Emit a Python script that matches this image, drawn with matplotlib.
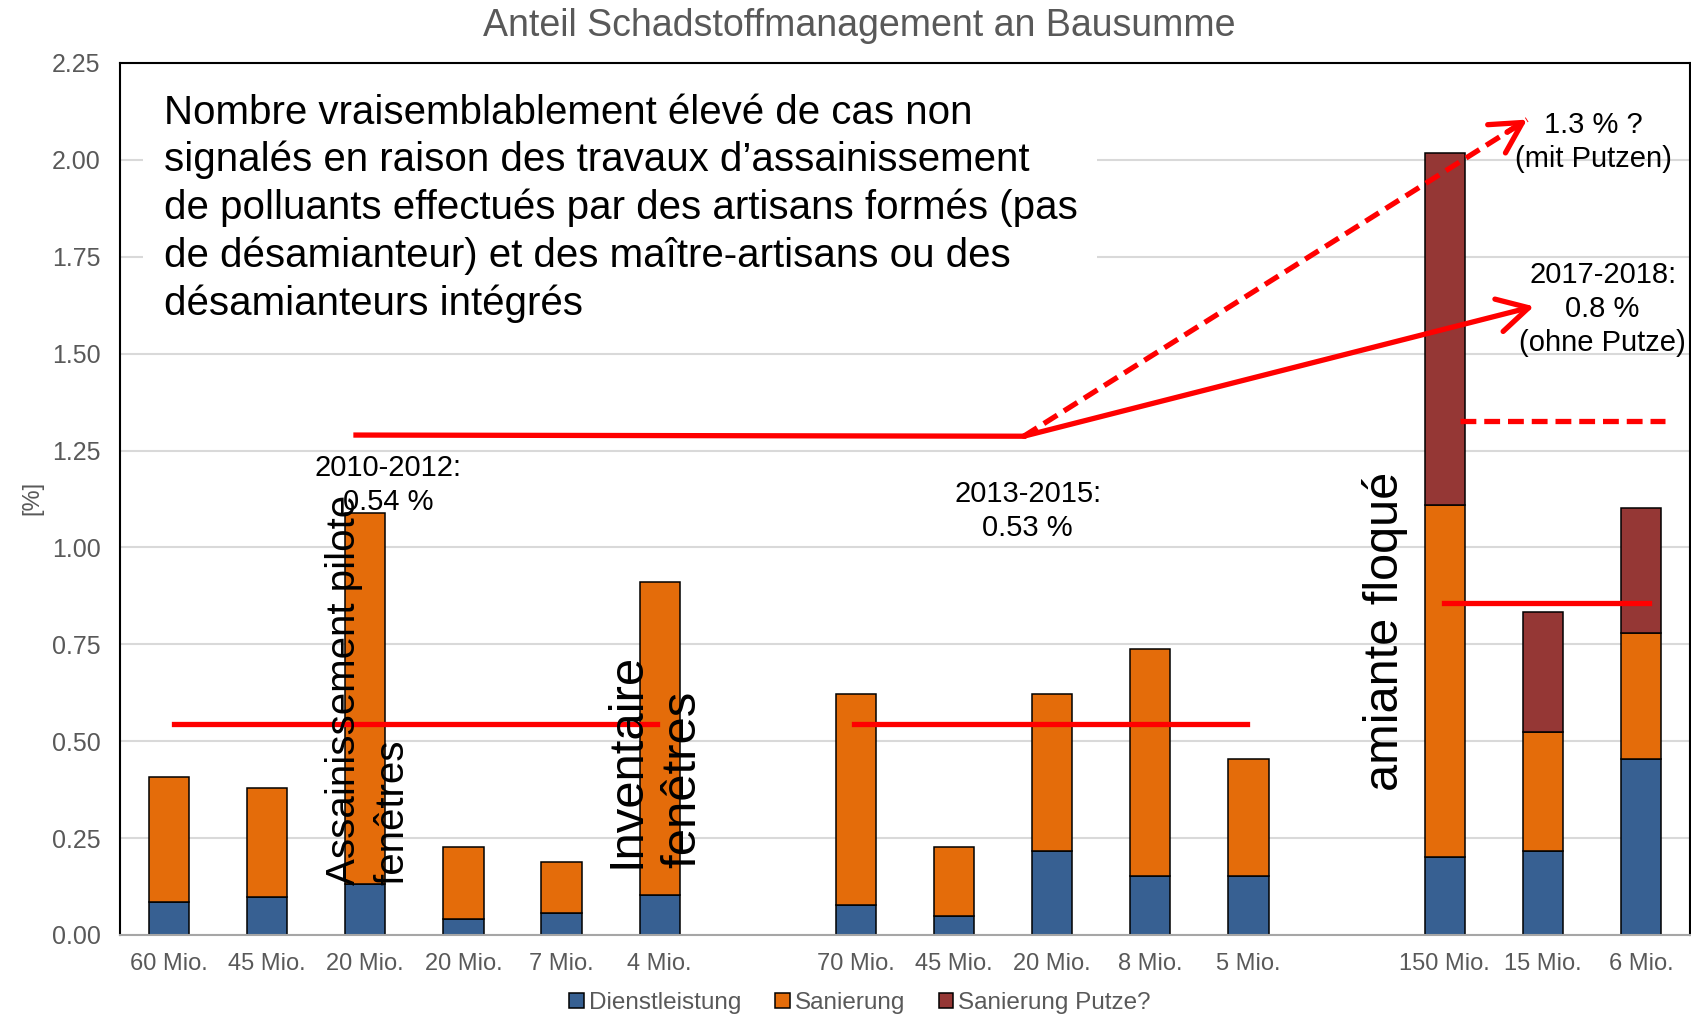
import numpy as np
import matplotlib
matplotlib.use('Agg')
import matplotlib.pyplot as plt
from matplotlib.patches import Rectangle, Patch

plt.rcParams['font.family'] = ['Liberation Sans', 'DejaVu Sans']

# categories ('' = empty slot between the groups)
labels = ['60 Mio.', '45 Mio.', '20 Mio.', '20 Mio.', '7 Mio.', '4 Mio.', '',
          '70 Mio.', '45 Mio.', '20 Mio.', '8 Mio.', '5 Mio.', '',
          '150 Mio.', '15 Mio.', '6 Mio.']
dienst = [0.084, 0.098, 0.132, 0.042, 0.056, 0.104, np.nan,
          0.078, 0.049, 0.216, 0.152, 0.152, np.nan,
          0.201, 0.216, 0.455]
sanierung = [0.323, 0.282, 0.957, 0.186, 0.132, 0.807, np.nan,
             0.543, 0.179, 0.405, 0.587, 0.303, np.nan,
             0.908, 0.308, 0.324]
putze = [0, 0, 0, 0, 0, 0, np.nan,
         0, 0, 0, 0, 0, np.nan,
         0.908, 0.310, 0.324]

# averages per period
avg_1012 = 0.545
avg_1315 = 0.545
avg_1718 = 0.857
avg_1718_putz = 1.327
trend_y = [1.290, 1.287]
trend_end_ohne = 1.622
trend_end_mit = 2.104

C_BLUE = '#376092'
C_ORANGE = '#E46C0A'
C_RED = '#953735'
GRAY = '#595959'
RED = '#FF0000'
LW = 3.8

fig = plt.figure(figsize=(16.91, 10.15), dpi=100)
ax = fig.add_axes([120/1691, 80/1015, 1570/1691, 872/1015])

x = np.arange(len(labels))
d = np.array(dienst)
s = np.array(sanierung)
p = np.array(putze)
w = 0.41
ax.bar(x, d, w, color=C_BLUE, edgecolor='black', lw=1.1, zorder=2)
ax.bar(x, s, w, bottom=d, color=C_ORANGE, edgecolor='black', lw=1.1, zorder=2)
hasp = p > 0
ax.bar(x[hasp], p[hasp], w, bottom=(d + s)[hasp], color=C_RED,
       edgecolor='black', lw=1.1, zorder=2)

ax.set_xlim(-0.5, len(labels) - 0.5)
ax.set_ylim(0, 2.25)
ax.set_yticks(np.arange(0, 2.26, 0.25))
ax.set_yticklabels(['%.2f' % v for v in np.arange(0, 2.26, 0.25)])
ax.set_xticks(x[[l != '' for l in labels]])
ax.set_xticklabels([l for l in labels if l != ''])
ax.tick_params(axis='both', length=0, labelsize=17, labelcolor=GRAY)
ax.tick_params(axis='y', pad=14, labelsize=18)
ax.tick_params(axis='x', pad=13)
ax.yaxis.grid(True, color='#d9d9d9', lw=1.5)
ax.set_axisbelow(True)
for sp in ['left', 'top', 'right']:
    ax.spines[sp].set_color('black')
    ax.spines[sp].set_linewidth(1.5)
ax.spines['bottom'].set_color('#a6a6a6')
ax.spines['bottom'].set_linewidth(1.5)

# white text box over the grid
ax.add_patch(Rectangle((0.0146, 0.72), 0.608, 0.27, transform=ax.transAxes,
                       fc='white', ec='none', zorder=1))
ax.text(0.028, 0.965,
        'Nombre vraisemblablement élevé de cas non\n'
        'signalés en raison des travaux d\u2019assainissement\n'
        'de polluants effectués par des artisans formés (pas\n'
        'de désamianteur) et des maître-artisans ou des\n'
        'désamianteurs intégrés',
        transform=ax.transAxes, ha='left', va='top', fontsize=29,
        linespacing=1.31, zorder=3)

# average lines
ax.plot([0.055, 4.97], [avg_1012, avg_1012], color=RED, lw=LW, zorder=4)
ax.plot([6.98, 10.99], [avg_1315, avg_1315], color=RED, lw=LW, zorder=4)
ax.plot([12.99, 15.08], [avg_1718, avg_1718], color=RED, lw=LW, zorder=4)
ax.plot([13.16, 15.25], [avg_1718_putz, avg_1718_putz], color=RED, lw=LW,
        ls=(0, (3, 1.5)), zorder=4)

# trend
ax.plot([1.905, 8.71], trend_y, color=RED, lw=LW, zorder=4)
ap = dict(arrowstyle='->,head_length=1.1,head_width=0.6', lw=LW, color=RED,
          shrinkA=0, shrinkB=0, mutation_scale=20)
ax.annotate('', xy=(13.91, trend_end_ohne), xytext=(8.71, trend_y[1]),
            arrowprops=ap, zorder=4)
start = np.array([8.71, trend_y[1]])
tip = np.array([13.84, trend_end_mit])
ax.plot([start[0], tip[0]], [start[1], tip[1]], color=RED, lw=LW,
        ls=(0, (3, 1.5)), zorder=4)
ax.annotate('', xy=tip, xytext=tip - 0.04 * (tip - start), arrowprops=ap,
            zorder=4)

# labels
ax.text(2.23, 1.16, '2010-2012:\n0.54 %', ha='center', va='center',
        fontsize=21, linespacing=1.27, zorder=5)
ax.text(8.75, 1.095, '2013-2015:\n0.53 %', ha='center', va='center',
        fontsize=21, linespacing=1.27, zorder=5)
ax.text(14.52, 2.045, '1.3 % ?\n(mit Putzen)', ha='center', va='center',
        fontsize=21, linespacing=1.27, zorder=5)
ax.text(14.61, 1.615, '2017-2018:\n0.8 %\n(ohne Putze)', ha='center',
        va='center', fontsize=21, linespacing=1.27, zorder=5)

ax.text(2.03, 0.13, 'Assainissement pilote\nfenêtres', rotation=90,
        ha='center', va='bottom', multialignment='left', fontsize=29,
        linespacing=1.32, zorder=5)
ax.text(4.95, 0.172, 'Inventaire\nfenêtres', rotation=90,
        ha='center', va='bottom', multialignment='left', fontsize=35.3,
        linespacing=1.3, zorder=5)
ax.text(12.39, 0.372, 'amiante floqué', rotation=90,
        ha='center', va='bottom', fontsize=35, zorder=5)

fig.text(859/1691, 1 - 36/1015, 'Anteil Schadstoffmanagement an Bausumme',
         ha='center', va='baseline', fontsize=27, color=GRAY)
fig.text(32/1691, 0.509, '[%]', rotation=90, ha='center', va='center',
         fontsize=17, color=GRAY)

handles = [Patch(fc=C_BLUE, ec='black', lw=1.1),
           Patch(fc=C_ORANGE, ec='black', lw=1.1),
           Patch(fc=C_RED, ec='black', lw=1.1)]
fig.legend(handles, ['Dienstleistung', 'Sanierung', 'Sanierung Putze?'],
           loc='center', bbox_to_anchor=(860/1691, 1 - 1003/1015), ncol=3,
           frameon=False, fontsize=17.5, labelcolor=GRAY, handlelength=0.6,
           handleheight=0.6, handletextpad=0.2, columnspacing=1.4,
           borderpad=0)

fig.savefig('out.png', dpi=100)
